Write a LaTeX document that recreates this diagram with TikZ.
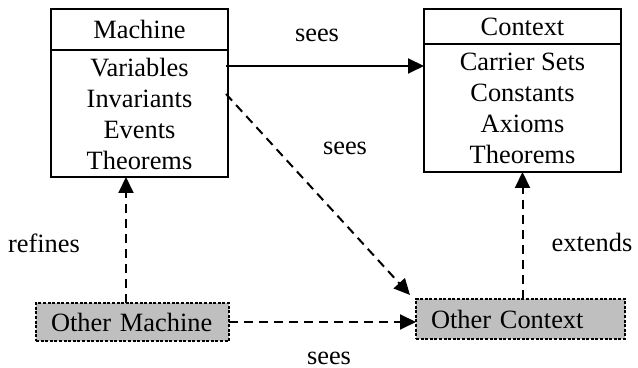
\documentclass[tikz,border=0pt]{standalone}
\usepackage{fontspec}
\setmainfont{Liberation Serif}
\usetikzlibrary{arrows.meta, positioning, calc}
\newcommand{\boxfont}{\fontsize{13.2}{15.5}\selectfont}
\tikzset{
  hdrbox/.style={rectangle, draw=black, line width=1pt, outer sep=0pt, inner sep=0pt, text centered, font=\boxfont},
  bodybox/.style={rectangle, draw=black, line width=1pt, outer sep=0pt, inner sep=0pt, align=center, font=\boxfont},
  otherbox/.style={rectangle, draw=black, fill=gray!50, line width=1pt, outer sep=0pt, dash pattern=on 1.5pt off 0.8pt, inner xsep=7.5pt, inner ysep=0pt, align=left, font=\boxfont},
  lbl/.style={font=\boxfont},
  linkarrow/.style={line width=1pt, -{Triangle[length=8pt, width=7.5pt]}},
  dasharrow/.style={linkarrow, dash pattern=on 4.5pt off 3pt}
}

\begin{document}
\begin{tikzpicture}[x=0.5pt, y=-0.5pt]
    \useasboundingbox (0,0) rectangle (638,368);

    % Machine (header + body)
    \node[hdrbox, minimum width=88.5pt, minimum height=20.5pt] (mhead) at (139.5, 29.5) {Machine};
    \node[bodybox, minimum width=88.5pt, minimum height=63.5pt, below=0pt of mhead] (mbody) {Variables\\Invariants\\Events\\Theorems};

    % Context (header + body)
    \node[hdrbox, minimum width=98.5pt, minimum height=17.5pt] (chead) at (522.5, 26.5) {Context};
    \node[bodybox, minimum width=98.5pt, minimum height=64pt, below=0pt of chead] (cbody) {Carrier Sets\\Constants\\Axioms\\Theorems};

    % Other machine / other context
    \node[otherbox, text width=81.5pt, minimum height=19pt] (omach) at (132.5, 322) {Other Machine};
    \node[otherbox, text width=89.5pt, minimum height=20pt] (octx) at (520.5, 319) {Other Context};

    % Links
    \coordinate (varsout) at ($(mbody.north east)+(-2,16)$);
    \coordinate (invout) at ($(mbody.north east)+(-2,44)$);
    \coordinate (octxin) at ($(octx.north west)+(-6,-4)$);
    \draw[linkarrow] (varsout) -- (varsout -| cbody.west);
    \draw[dasharrow] (invout) -- (octxin);
    \draw[dasharrow] ([xshift=-3.25pt]omach.north) -- ([xshift=-3.25pt]omach.north |- mbody.south);
    \draw[dasharrow] (octx.north -| cbody.south) -- (cbody.south);
    \draw[dasharrow] (omach.east) -- (omach.east -| octx.west);

    % Labels
    \node[lbl] (lsees1) at (317, 35) {sees};
    \node[lbl] (lsees2) at (345, 148) {sees};
    \node[lbl] (lsees3) at (329, 358) {sees};
    \node[lbl] (lrefines) at (44, 243) {refines};
    \node[lbl] (lextends) at (592, 242) {extends};
\end{tikzpicture}
\end{document}
